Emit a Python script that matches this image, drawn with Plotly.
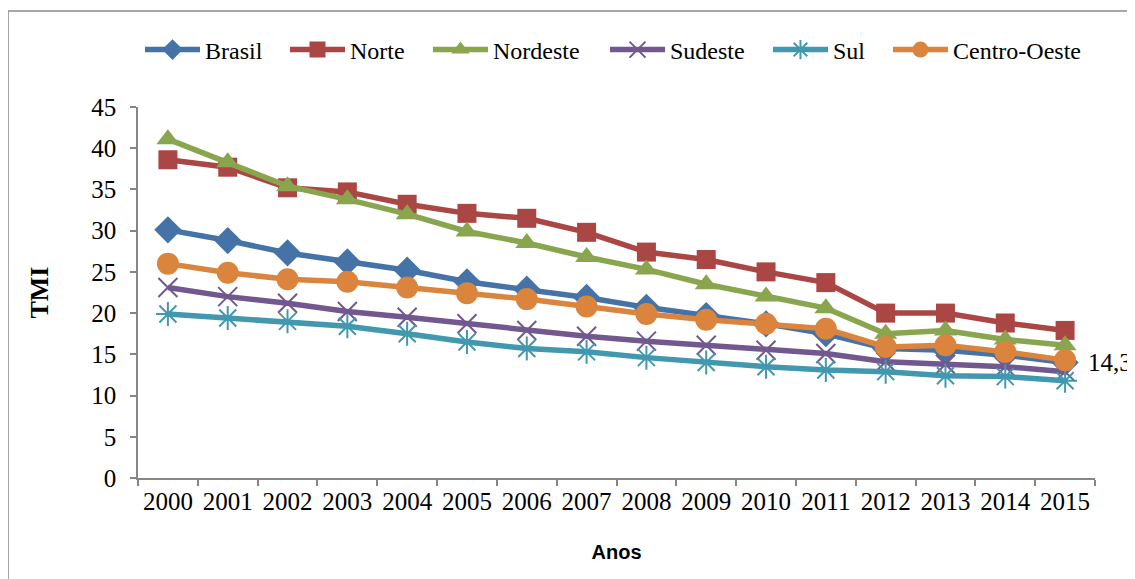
import plotly.graph_objects as go

anos = ["2000", "2001", "2002", "2003", "2004", "2005", "2006", "2007",
        "2008", "2009", "2010", "2011", "2012", "2013", "2014", "2015"]

brasil = [30.1, 28.8, 27.3, 26.2, 25.2, 23.8, 22.9, 21.9, 20.7, 19.7, 18.7, 17.5, 15.7, 15.5, 14.9, 14.0]
norte = [38.6, 37.7, 35.2, 34.7, 33.2, 32.1, 31.5, 29.8, 27.4, 26.5, 25.0, 23.7, 20.0, 20.0, 18.8, 17.9]
nordeste = [41.1, 38.3, 35.4, 33.8, 32.0, 29.9, 28.5, 26.8, 25.3, 23.5, 22.0, 20.6, 17.5, 17.9, 16.8, 16.1]
sudeste = [23.1, 22.0, 21.2, 20.2, 19.5, 18.7, 17.9, 17.2, 16.6, 16.1, 15.5, 15.1, 14.1, 13.8, 13.5, 12.9]
sul = [19.9, 19.4, 19.0, 18.4, 17.5, 16.5, 15.7, 15.3, 14.6, 14.0, 13.5, 13.1, 12.9, 12.4, 12.3, 11.8]
centro_oeste = [26.0, 24.9, 24.1, 23.8, 23.1, 22.4, 21.7, 20.8, 19.9, 19.2, 18.7, 18.1, 15.9, 16.1, 15.3, 14.3]

y_ticks = [0, 5, 10, 15, 20, 25, 30, 35, 40, 45]

SERIF = "Times New Roman, Liberation Serif, serif"

# name, values, color, symbol, size, marker line width, legend id, legend x (paper)
series = [
    ("Brasil", brasil, "#4572A7", "diamond", 21, None, "legend", 0.0021),
    ("Norte", norte, "#AA4643", "square", 19, None, "legend2", 0.1536),
    ("Nordeste", nordeste, "#89A54E", "triangle-up", 20, None, "legend3", 0.3030),
    ("Sudeste", sudeste, "#71588F", "x-thin-open", 19, 2, "legend4", 0.4880),
    ("Sul", sul, "#4198AF", "asterisk-open", 20, 2, "legend5", 0.6583),
    ("Centro-Oeste", centro_oeste, "#DB843D", "circle", 22, None, "legend6", 0.7837),
]

fig = go.Figure()
legend_layouts = {}
for name, vals, color, sym, size, lw, leg, lx in series:
    marker = dict(symbol=sym, size=size, color=color)
    if lw:
        marker["line"] = dict(color=color, width=lw)
    fig.add_trace(go.Scatter(
        x=anos, y=vals, name=name, mode="lines+markers", legend=leg,
        line=dict(color=color, width=5.5),
        marker=marker,
        cliponaxis=False,
    ))
    legend_layouts[leg] = dict(
        orientation="h", x=lx, y=1.1536, xanchor="left", yanchor="middle",
        font=dict(family=SERIF, size=24, color="black"),
        itemwidth=55, bgcolor="rgba(0,0,0,0)", borderwidth=0,
    )

# data label for the last value of Centro-Oeste (category axes use the index)
fig.add_annotation(
    x=len(anos) - 1, y=centro_oeste[-1], xref="x", yref="y",
    text=f"{centro_oeste[-1]:.1f}".replace(".", ","),
    showarrow=False, xanchor="left", yanchor="middle", xshift=21, yshift=-2,
    font=dict(family=SERIF, size=25, color="black"),
)

fig.update_layout(
    width=1127, height=571,
    margin=dict(l=130, r=40, t=99, b=101),
    paper_bgcolor="white", plot_bgcolor="white",
    font=dict(family=SERIF, size=24, color="black"),
    showlegend=True,
    shapes=[dict(type="rect", xref="paper", yref="paper",
                 x0=-0.1358, x1=1.06, y0=-0.32, y1=1.2588,
                 line=dict(color="#8C8C8C", width=1.5), layer="below")],
    **legend_layouts,
)

fig.update_xaxes(
    type="category", range=[-0.5, len(anos) - 0.5],
    showline=True, linecolor="#868686", linewidth=1.5,
    ticks="outside", tickson="boundaries", ticklen=6, tickcolor="#868686", tickwidth=1.5,
    showgrid=False, zeroline=False, automargin=False, tickangle=0,
    tickfont=dict(family=SERIF, size=25, color="black"),
    title=dict(text="<b>Anos</b>", standoff=31,
               font=dict(family="Liberation Sans, Arial, sans-serif", size=20, color="black")),
)
fig.update_yaxes(
    range=[0, 45], tickvals=y_ticks, showline=True, linecolor="#868686", linewidth=1.5,
    ticks="outside", ticklen=6, tickcolor="#868686", tickwidth=1.5,
    showgrid=False, zeroline=False, automargin=False, ticklabelstandoff=9,
    tickfont=dict(family=SERIF, size=25, color="black"),
    title=dict(text="<b>TMI</b>", standoff=35,
               font=dict(family=SERIF, size=26, color="black")),
)

fig.write_html("out.html")
